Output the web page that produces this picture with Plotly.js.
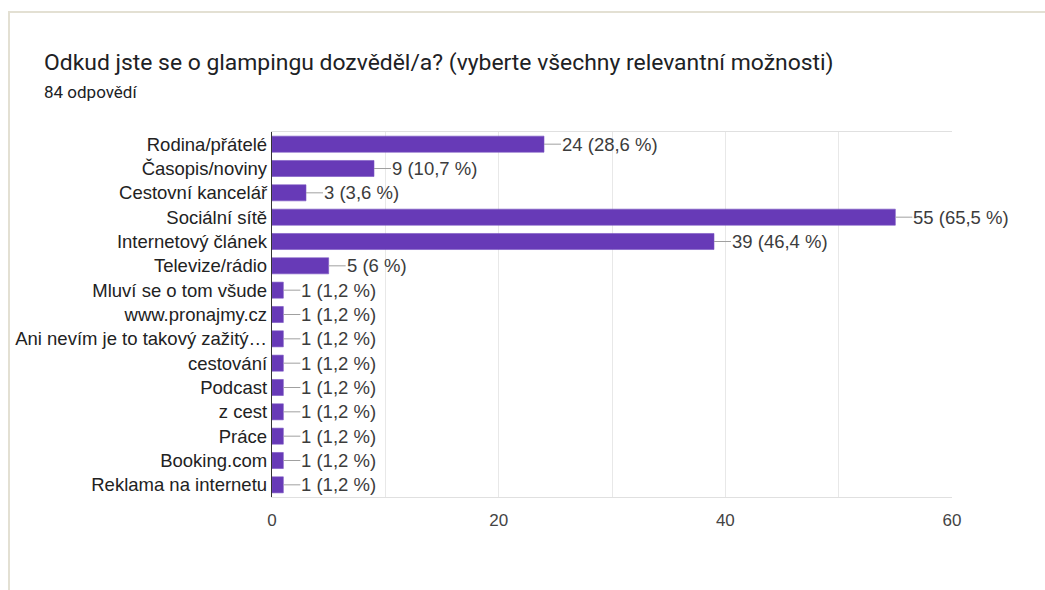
<!DOCTYPE html>
<html>
<head>
<meta charset="utf-8">
<script src="https://cdn.plot.ly/plotly-3.0.1.min.js"></script>
<style>
  html, body { margin: 0; padding: 0; background: #ffffff; overflow: hidden; }
  #card {
    position: absolute; left: 8px; top: 11px;
    width: 1200px; height: 800px;
    border: 2px solid #e3e0d3; box-sizing: border-box;
  }
  #chart { position: absolute; left: 0; top: 0; width: 1045px; height: 590px; }
</style>
</head>
<body>
<div id="card"></div>
<div id="chart"></div>
<script>
// Survey question: where respondents heard about glamping (multiple answers allowed)
const totalResponses = 84;

const categories = [
  "Rodina/přátelé",
  "Časopis/noviny",
  "Cestovní kancelář",
  "Sociální sítě",
  "Internetový článek",
  "Televize/rádio",
  "Mluví se o tom všude",
  "www.pronajmy.cz",
  "Ani nevím je to takový zažitý…",
  "cestování",
  "Podcast",
  "z cest",
  "Práce",
  "Booking.com",
  "Reklama na internetu"
];

const counts = [24, 9, 3, 55, 39, 5, 1, 1, 1, 1, 1, 1, 1, 1, 1];

const xTickValues = [0, 20, 40, 60];

// "24 (28,6 %)" style labels, Czech decimal comma
function valueLabel(n) {
  const pct = Math.round(n / totalResponses * 1000) / 10;
  return n + " (" + String(pct).replace(".", ",") + " %)";
}

const barTrace = {
  type: "bar",
  orientation: "h",
  x: counts,
  y: categories,
  marker: { color: "#673ab7", line: { color: "#7a55c2", width: 0.6 } },
  hoverinfo: "skip"
};

const labelAnnotations = counts.map((v, i) => ({
  x: v,
  y: categories[i],
  xref: "x",
  yref: "y",
  text: valueLabel(v),
  showarrow: true,
  arrowhead: 0,
  arrowwidth: 1,
  arrowcolor: "#a0a0a0",
  ax: 17,
  ay: 0,
  xanchor: "left",
  yanchor: "middle",
  borderpad: 0,
  font: { family: "Liberation Sans, Arial, sans-serif", size: 18.5, color: "#3c3c3c" }
}));

const subtitle = {
  xref: "paper", yref: "paper",
  x: (42 - 272) / 680, y: 1 + (132 - 92) / 365,
  xanchor: "left", yanchor: "middle",
  showarrow: false,
  text: totalResponses + " odpovědí",
  font: { family: "Roboto, sans-serif", size: 17, color: "#202124" }
};

const layout = {
  width: 1045,
  height: 590,
  paper_bgcolor: "rgba(0,0,0,0)",
  plot_bgcolor: "#ffffff",
  margin: { l: 272, r: 93, t: 132, b: 93, pad: 0 },
  showlegend: false,
  bargap: 0.34,
  title: {
    text: "Odkud jste se o glampingu dozvěděl/a? (vyberte všechny relevantní možnosti)",
    xref: "container", yref: "container",
    x: 44 / 1045, xanchor: "left",
    y: 1 - 62 / 590, yanchor: "middle",
    font: { family: "Roboto, sans-serif", size: 22.9, color: "#202124" }
  },
  xaxis: {
    range: [0, 60],
    tickvals: xTickValues,
    ticktext: xTickValues.map(String),
    showgrid: true,
    gridcolor: "#e8e8e8",
    gridwidth: 1,
    minor: { dtick: 10, showgrid: true, gridcolor: "#e8e8e8", gridwidth: 1 },
    zeroline: false,
    showline: true,
    linecolor: "#e0e0e0",
    linewidth: 1,
    mirror: true,
    ticks: "",
    ticklabelstandoff: 8,
    tickfont: { family: "Liberation Sans, Arial, sans-serif", size: 17, color: "#444444" },
    fixedrange: true
  },
  yaxis: {
    type: "category",
    autorange: "reversed",
    showgrid: false,
    zeroline: false,
    showline: true,
    linecolor: "#333333",
    linewidth: 1.2,
    ticks: "",
    ticklabelstandoff: 0,
    tickfont: { family: "Liberation Sans, Arial, sans-serif", size: 18.5, color: "#222222" },
    fixedrange: true
  },
  annotations: labelAnnotations.concat([subtitle])
};

Plotly.newPlot("chart", [barTrace], layout, { staticPlot: true, displayModeBar: false });
</script>
</body>
</html>
